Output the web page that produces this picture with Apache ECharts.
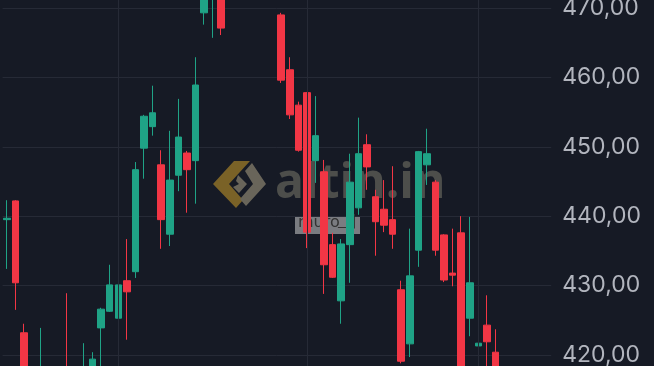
<!DOCTYPE html>
<html>
<head>
<meta charset="utf-8">
<script src="https://cdn.jsdelivr.net/npm/echarts@6/dist/echarts.min.js"></script>
<style>
html,body{margin:0;padding:0;background:#161a25;}
#chart{width:654px;height:366px;}
</style>
</head>
<body>
<div id="chart"></div>
<script>
// Category slots (trading days); the last ones are empty space on the right
const categories = [];
for (let i = 0; i < 64; i++) categories.push('D' + (i + 1));

// OHLC values: [open, close, low, high]
const opens  = [439.5,442.2,423.2,414.0,413.0,414.0,411.0,417.0,413.0,415.0,416.5,423.9,426.3,425.3,430.7,432.0,449.8,452.9,447.4,437.4,445.9,449.1,448.0,469.3,471.5,474.0,473.0,476.0,479.0,477.0,480.0,476.0,469.0,461.1,456.0,457.8,448.0,446.4,435.9,427.8,435.9,441.2,450.3,442.8,441.0,439.5,429.4,421.6,435.1,447.4,444.9,437.3,431.8,437.6,425.3,421.3,424.3,420.4];
const closes = [439.7,430.4,416.5,416.0,417.0,412.0,415.0,414.0,416.0,418.0,419.4,426.6,430.1,430.1,429.1,446.7,454.4,454.9,439.5,445.2,451.4,446.7,458.9,473.0,474.0,467.1,476.0,479.0,477.0,480.0,476.0,473.5,459.6,454.6,449.5,437.7,451.6,433.0,431.2,436.0,444.9,449.0,447.1,439.2,438.7,437.4,419.1,431.4,449.3,449.0,435.1,430.8,431.5,416.0,430.4,421.7,421.9,416.0];
const lows   = [432.4,426.5,415.0,413.0,411.0,410.0,410.0,412.0,412.0,413.0,415.0,416.0,426.2,425.2,422.2,431.1,445.4,451.6,435.3,435.7,443.6,440.5,441.8,467.6,465.7,466.1,472.6,475.0,476.0,476.0,475.0,472.6,459.2,454.0,449.3,435.4,444.8,428.8,431.1,424.5,430.4,440.2,443.8,434.3,437.7,435.3,418.8,419.7,432.7,444.5,434.3,430.5,429.9,414.0,422.7,416.0,417.0,414.0];
const highs  = [442.3,442.3,424.5,417.5,423.9,417.0,417.8,428.9,417.8,421.7,420.4,426.8,433.0,433.7,436.7,447.8,454.6,458.8,449.5,452.3,456.9,449.4,462.9,474.0,475.0,475.0,477.0,480.0,481.0,482.0,481.0,477.0,469.3,462.9,456.5,457.9,457.3,448.1,437.6,436.7,449.0,454.2,451.8,443.8,445.2,447.2,430.7,438.2,449.4,452.6,445.2,437.4,438.2,440.0,439.9,427.2,428.6,423.7];

// Vertical grid (month boundaries) at these category indices
const monthStarts = [13, 35, 55];

// Axis range and tick labels
const yMin = 416.97, yMax = 472.59;
const yTicks = [420, 430, 440, 450, 460, 470];

const ohlc = opens.map((o, i) => [o, closes[i], lows[i], highs[i]]);

const UP = '#1fa386', DOWN = '#f23645';

const chart = echarts.init(document.getElementById('chart'), null, {renderer: 'canvas'});
chart.setOption({
  backgroundColor: '#161a25',
  animation: false,
  grid: {left: 2.6, right: 102.8, top: -10, bottom: -10, containLabel: false, outerBoundsMode: 'none'},
  xAxis: {
    type: 'category',
    data: categories,
    boundaryGap: true,
    axisLine: {show: false},
    axisTick: {show: false},
    axisLabel: {show: false},
    splitLine: {show: false}
  },
  yAxis: {
    type: 'value',
    position: 'right',
    min: yMin,
    max: yMax,
    splitNumber: 5,
    scale: true,
    axisLine: {show: false},
    axisTick: {show: false},
    axisLabel: {
      show: true,
      margin: 11,
      align: 'left',
      color: '#b2b5be',
      fontFamily: 'Inter',
      fontSize: 23,
      showMinLabel: false,
      showMaxLabel: false,
      formatter: function (v) {
        return yTicks.indexOf(Math.round(v)) >= 0 && Math.abs(v - Math.round(v)) < 1e-6
          ? v.toFixed(2).replace('.', ',') : '';
      }
    },
    splitLine: {show: true, lineStyle: {color: '#262a36', width: 1}}
  },
  graphic: [
    {
      type: 'group', z: 0, silent: true,
      children: [
        {type: 'polygon', shape: {points: [[213,184],[234,161],[250,161],[229,184],[243,200],[236,208]]}, style: {fill: '#7a6227'}},
        {type: 'polygon', shape: {points: [[252,163],[266,184],[246,206],[240,199],[253,184],[245,171]]}, style: {fill: '#69655a'}},
        {type: 'polygon', shape: {points: [[238,175],[247,184],[239,193],[233,187],[239,184],[236,181]]}, style: {fill: '#69655a'}},
        {type: 'text', left: 275, top: 160, style: {text: 'altin.in', fill: '#4d4e4b', font: 'bold 48px "Open Sans"'}}
      ]
    },
    {
      type: 'group', z: 100, silent: true,
      children: [
        {type: 'rect', shape: {x: 295, y: 216, width: 65, height: 18}, style: {fill: 'rgba(205,205,205,0.55)'}},
        {type: 'text', left: 298, top: 215, style: {text: 'muro', fill: '#333333', font: '16px "DejaVu Sans"'}},
        {type: 'text', left: 338, top: 214, style: {text: '__|', fill: '#333333', font: '14px "DejaVu Sans"'}}
      ]
    }
  ],
  series: [{
    type: 'candlestick',
    data: ohlc,
    barWidth: 7,
    clip: true,
    itemStyle: {color: UP, color0: DOWN, borderColor: UP, borderColor0: DOWN, borderWidth: 1},
    markLine: {
      silent: true,
      symbol: ['none', 'none'],
      label: {show: false},
      lineStyle: {color: '#262a36', width: 1, type: 'solid'},
      data: monthStarts.map(i => ({xAxis: categories[i]}))
    }
  }]
});
</script>
</body>
</html>
